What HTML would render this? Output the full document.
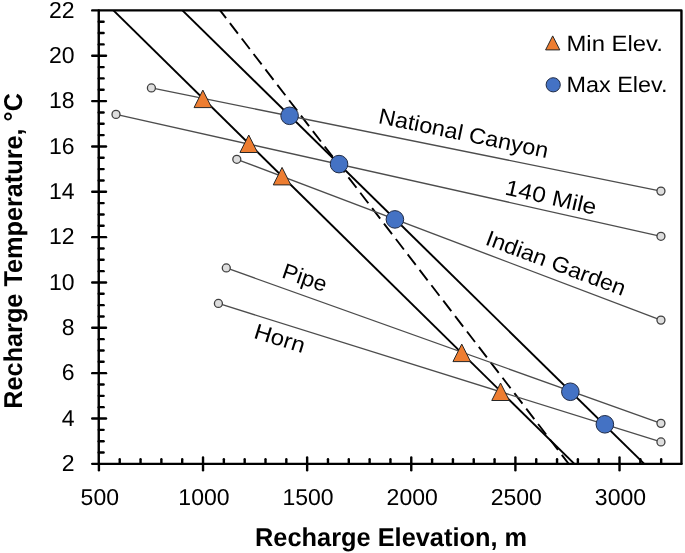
<!DOCTYPE html>
<html><head><meta charset="utf-8"><style>
html,body{margin:0;padding:0;background:#fff;overflow:hidden;width:685px;height:553px;}
svg{display:block;will-change:transform;text-rendering:geometricPrecision;}
</style></head><body>
<svg width="685" height="553" viewBox="0 0 685 553">
<rect x="0" y="0" width="685" height="553" fill="#fff"/>
<path d="M92.2,10.4 H681.45 V463.85" fill="none" stroke="#000" stroke-width="2.4" stroke-linecap="round" stroke-linejoin="round"/>
<line x1="98.75" y1="10.4" x2="98.75" y2="463.85" stroke="#000" stroke-width="2.4" stroke-linecap="round"/>
<line x1="92.2" y1="463.85" x2="681.45" y2="463.85" stroke="#000" stroke-width="2.4" stroke-linecap="round"/>
<line x1="98.75" y1="452.51" x2="103.6" y2="452.51" stroke="#000" stroke-width="2.4" stroke-linecap="round"/>
<line x1="98.75" y1="441.18" x2="103.6" y2="441.18" stroke="#000" stroke-width="2.4" stroke-linecap="round"/>
<line x1="98.75" y1="429.84" x2="103.6" y2="429.84" stroke="#000" stroke-width="2.4" stroke-linecap="round"/>
<line x1="92.2" y1="418.50" x2="106.0" y2="418.50" stroke="#000" stroke-width="2.4" stroke-linecap="round"/>
<line x1="98.75" y1="407.17" x2="103.6" y2="407.17" stroke="#000" stroke-width="2.4" stroke-linecap="round"/>
<line x1="98.75" y1="395.83" x2="103.6" y2="395.83" stroke="#000" stroke-width="2.4" stroke-linecap="round"/>
<line x1="98.75" y1="384.50" x2="103.6" y2="384.50" stroke="#000" stroke-width="2.4" stroke-linecap="round"/>
<line x1="92.2" y1="373.16" x2="106.0" y2="373.16" stroke="#000" stroke-width="2.4" stroke-linecap="round"/>
<line x1="98.75" y1="361.82" x2="103.6" y2="361.82" stroke="#000" stroke-width="2.4" stroke-linecap="round"/>
<line x1="98.75" y1="350.49" x2="103.6" y2="350.49" stroke="#000" stroke-width="2.4" stroke-linecap="round"/>
<line x1="98.75" y1="339.15" x2="103.6" y2="339.15" stroke="#000" stroke-width="2.4" stroke-linecap="round"/>
<line x1="92.2" y1="327.81" x2="106.0" y2="327.81" stroke="#000" stroke-width="2.4" stroke-linecap="round"/>
<line x1="98.75" y1="316.48" x2="103.6" y2="316.48" stroke="#000" stroke-width="2.4" stroke-linecap="round"/>
<line x1="98.75" y1="305.14" x2="103.6" y2="305.14" stroke="#000" stroke-width="2.4" stroke-linecap="round"/>
<line x1="98.75" y1="293.81" x2="103.6" y2="293.81" stroke="#000" stroke-width="2.4" stroke-linecap="round"/>
<line x1="92.2" y1="282.47" x2="106.0" y2="282.47" stroke="#000" stroke-width="2.4" stroke-linecap="round"/>
<line x1="98.75" y1="271.13" x2="103.6" y2="271.13" stroke="#000" stroke-width="2.4" stroke-linecap="round"/>
<line x1="98.75" y1="259.80" x2="103.6" y2="259.80" stroke="#000" stroke-width="2.4" stroke-linecap="round"/>
<line x1="98.75" y1="248.46" x2="103.6" y2="248.46" stroke="#000" stroke-width="2.4" stroke-linecap="round"/>
<line x1="92.2" y1="237.13" x2="106.0" y2="237.13" stroke="#000" stroke-width="2.4" stroke-linecap="round"/>
<line x1="98.75" y1="225.79" x2="103.6" y2="225.79" stroke="#000" stroke-width="2.4" stroke-linecap="round"/>
<line x1="98.75" y1="214.45" x2="103.6" y2="214.45" stroke="#000" stroke-width="2.4" stroke-linecap="round"/>
<line x1="98.75" y1="203.12" x2="103.6" y2="203.12" stroke="#000" stroke-width="2.4" stroke-linecap="round"/>
<line x1="92.2" y1="191.78" x2="106.0" y2="191.78" stroke="#000" stroke-width="2.4" stroke-linecap="round"/>
<line x1="98.75" y1="180.44" x2="103.6" y2="180.44" stroke="#000" stroke-width="2.4" stroke-linecap="round"/>
<line x1="98.75" y1="169.11" x2="103.6" y2="169.11" stroke="#000" stroke-width="2.4" stroke-linecap="round"/>
<line x1="98.75" y1="157.77" x2="103.6" y2="157.77" stroke="#000" stroke-width="2.4" stroke-linecap="round"/>
<line x1="92.2" y1="146.43" x2="106.0" y2="146.43" stroke="#000" stroke-width="2.4" stroke-linecap="round"/>
<line x1="98.75" y1="135.10" x2="103.6" y2="135.10" stroke="#000" stroke-width="2.4" stroke-linecap="round"/>
<line x1="98.75" y1="123.76" x2="103.6" y2="123.76" stroke="#000" stroke-width="2.4" stroke-linecap="round"/>
<line x1="98.75" y1="112.43" x2="103.6" y2="112.43" stroke="#000" stroke-width="2.4" stroke-linecap="round"/>
<line x1="92.2" y1="101.09" x2="106.0" y2="101.09" stroke="#000" stroke-width="2.4" stroke-linecap="round"/>
<line x1="98.75" y1="89.75" x2="103.6" y2="89.75" stroke="#000" stroke-width="2.4" stroke-linecap="round"/>
<line x1="98.75" y1="78.42" x2="103.6" y2="78.42" stroke="#000" stroke-width="2.4" stroke-linecap="round"/>
<line x1="98.75" y1="67.08" x2="103.6" y2="67.08" stroke="#000" stroke-width="2.4" stroke-linecap="round"/>
<line x1="92.2" y1="55.75" x2="106.0" y2="55.75" stroke="#000" stroke-width="2.4" stroke-linecap="round"/>
<line x1="98.75" y1="44.41" x2="103.6" y2="44.41" stroke="#000" stroke-width="2.4" stroke-linecap="round"/>
<line x1="98.75" y1="33.07" x2="103.6" y2="33.07" stroke="#000" stroke-width="2.4" stroke-linecap="round"/>
<line x1="98.75" y1="21.74" x2="103.6" y2="21.74" stroke="#000" stroke-width="2.4" stroke-linecap="round"/>
<line x1="98.90" y1="463.85" x2="98.90" y2="470.2" stroke="#000" stroke-width="2.4" stroke-linecap="round"/>
<line x1="119.73" y1="463.85" x2="119.73" y2="459.2" stroke="#000" stroke-width="2.4" stroke-linecap="round"/>
<line x1="140.55" y1="463.85" x2="140.55" y2="459.2" stroke="#000" stroke-width="2.4" stroke-linecap="round"/>
<line x1="161.38" y1="463.85" x2="161.38" y2="459.2" stroke="#000" stroke-width="2.4" stroke-linecap="round"/>
<line x1="182.20" y1="463.85" x2="182.20" y2="459.2" stroke="#000" stroke-width="2.4" stroke-linecap="round"/>
<line x1="203.03" y1="457.5" x2="203.03" y2="470.2" stroke="#000" stroke-width="2.4" stroke-linecap="round"/>
<line x1="223.85" y1="463.85" x2="223.85" y2="459.2" stroke="#000" stroke-width="2.4" stroke-linecap="round"/>
<line x1="244.68" y1="463.85" x2="244.68" y2="459.2" stroke="#000" stroke-width="2.4" stroke-linecap="round"/>
<line x1="265.50" y1="463.85" x2="265.50" y2="459.2" stroke="#000" stroke-width="2.4" stroke-linecap="round"/>
<line x1="286.32" y1="463.85" x2="286.32" y2="459.2" stroke="#000" stroke-width="2.4" stroke-linecap="round"/>
<line x1="307.15" y1="457.5" x2="307.15" y2="470.2" stroke="#000" stroke-width="2.4" stroke-linecap="round"/>
<line x1="327.98" y1="463.85" x2="327.98" y2="459.2" stroke="#000" stroke-width="2.4" stroke-linecap="round"/>
<line x1="348.80" y1="463.85" x2="348.80" y2="459.2" stroke="#000" stroke-width="2.4" stroke-linecap="round"/>
<line x1="369.62" y1="463.85" x2="369.62" y2="459.2" stroke="#000" stroke-width="2.4" stroke-linecap="round"/>
<line x1="390.45" y1="463.85" x2="390.45" y2="459.2" stroke="#000" stroke-width="2.4" stroke-linecap="round"/>
<line x1="411.27" y1="457.5" x2="411.27" y2="470.2" stroke="#000" stroke-width="2.4" stroke-linecap="round"/>
<line x1="432.10" y1="463.85" x2="432.10" y2="459.2" stroke="#000" stroke-width="2.4" stroke-linecap="round"/>
<line x1="452.92" y1="463.85" x2="452.92" y2="459.2" stroke="#000" stroke-width="2.4" stroke-linecap="round"/>
<line x1="473.75" y1="463.85" x2="473.75" y2="459.2" stroke="#000" stroke-width="2.4" stroke-linecap="round"/>
<line x1="494.57" y1="463.85" x2="494.57" y2="459.2" stroke="#000" stroke-width="2.4" stroke-linecap="round"/>
<line x1="515.40" y1="457.5" x2="515.40" y2="470.2" stroke="#000" stroke-width="2.4" stroke-linecap="round"/>
<line x1="536.23" y1="463.85" x2="536.23" y2="459.2" stroke="#000" stroke-width="2.4" stroke-linecap="round"/>
<line x1="557.05" y1="463.85" x2="557.05" y2="459.2" stroke="#000" stroke-width="2.4" stroke-linecap="round"/>
<line x1="577.88" y1="463.85" x2="577.88" y2="459.2" stroke="#000" stroke-width="2.4" stroke-linecap="round"/>
<line x1="598.70" y1="463.85" x2="598.70" y2="459.2" stroke="#000" stroke-width="2.4" stroke-linecap="round"/>
<line x1="619.52" y1="457.5" x2="619.52" y2="470.2" stroke="#000" stroke-width="2.4" stroke-linecap="round"/>
<line x1="640.35" y1="463.85" x2="640.35" y2="459.2" stroke="#000" stroke-width="2.4" stroke-linecap="round"/>
<line x1="661.17" y1="463.85" x2="661.17" y2="459.2" stroke="#000" stroke-width="2.4" stroke-linecap="round"/>
<text transform="translate(74.6,470.95)" font-family="Liberation Sans, sans-serif" font-size="23" text-anchor="end" fill="#000">2</text>
<text transform="translate(74.6,425.61)" font-family="Liberation Sans, sans-serif" font-size="23" text-anchor="end" fill="#000">4</text>
<text transform="translate(74.6,380.26)" font-family="Liberation Sans, sans-serif" font-size="23" text-anchor="end" fill="#000">6</text>
<text transform="translate(74.6,334.92)" font-family="Liberation Sans, sans-serif" font-size="23" text-anchor="end" fill="#000">8</text>
<text transform="translate(74.6,289.57)" font-family="Liberation Sans, sans-serif" font-size="23" text-anchor="end" fill="#000">10</text>
<text transform="translate(74.6,244.23)" font-family="Liberation Sans, sans-serif" font-size="23" text-anchor="end" fill="#000">12</text>
<text transform="translate(74.6,198.88)" font-family="Liberation Sans, sans-serif" font-size="23" text-anchor="end" fill="#000">14</text>
<text transform="translate(74.6,153.53)" font-family="Liberation Sans, sans-serif" font-size="23" text-anchor="end" fill="#000">16</text>
<text transform="translate(74.6,108.19)" font-family="Liberation Sans, sans-serif" font-size="23" text-anchor="end" fill="#000">18</text>
<text transform="translate(74.6,62.85)" font-family="Liberation Sans, sans-serif" font-size="23" text-anchor="end" fill="#000">20</text>
<text transform="translate(74.6,17.50)" font-family="Liberation Sans, sans-serif" font-size="23" text-anchor="end" fill="#000">22</text>
<text transform="translate(99.80,505.0)" font-family="Liberation Sans, sans-serif" font-size="23" text-anchor="middle" fill="#000">500</text>
<text transform="translate(203.93,505.0)" font-family="Liberation Sans, sans-serif" font-size="23" text-anchor="middle" fill="#000">1000</text>
<text transform="translate(308.05,505.0)" font-family="Liberation Sans, sans-serif" font-size="23" text-anchor="middle" fill="#000">1500</text>
<text transform="translate(412.17,505.0)" font-family="Liberation Sans, sans-serif" font-size="23" text-anchor="middle" fill="#000">2000</text>
<text transform="translate(516.30,505.0)" font-family="Liberation Sans, sans-serif" font-size="23" text-anchor="middle" fill="#000">2500</text>
<text transform="translate(620.42,505.0)" font-family="Liberation Sans, sans-serif" font-size="23" text-anchor="middle" fill="#000">3000</text>
<text x="255.0" y="545.7" font-family="Liberation Sans, sans-serif" font-size="25.8" font-weight="bold" fill="#000" textLength="272.1" lengthAdjust="spacingAndGlyphs">Recharge Elevation, m</text>
<text transform="translate(22.0,408.7) rotate(-90)" x="0" y="0" font-family="Liberation Sans, sans-serif" font-size="25.8" font-weight="bold" fill="#000" textLength="315.6" lengthAdjust="spacingAndGlyphs">Recharge Temperature, °C</text>
<defs><clipPath id="pc"><rect x="98.75" y="10.40" width="582.70" height="453.45"/></clipPath></defs>
<g clip-path="url(#pc)">
<line x1="113.4" y1="10.4" x2="574.4" y2="463.85" stroke="#000" stroke-width="1.95"/>
<line x1="182.4" y1="10.4" x2="644.3" y2="463.85" stroke="#000" stroke-width="1.95"/>
<line x1="220.1" y1="10.4" x2="568.7" y2="463.85" stroke="#000" stroke-width="1.9" stroke-dasharray="13.2 6.25" stroke-dashoffset="3.4"/>
</g>
<line x1="151.4" y1="87.95" x2="660.95" y2="191.1" stroke="#4d4d4d" stroke-width="1.35"/>
<line x1="116.0" y1="114.4" x2="660.95" y2="236.3" stroke="#4d4d4d" stroke-width="1.35"/>
<line x1="236.8" y1="159.3" x2="660.95" y2="320.1" stroke="#4d4d4d" stroke-width="1.35"/>
<line x1="226.3" y1="267.95" x2="660.95" y2="423.35" stroke="#4d4d4d" stroke-width="1.35"/>
<line x1="218.4" y1="303.45" x2="660.95" y2="441.95" stroke="#4d4d4d" stroke-width="1.35"/>
<circle cx="151.4" cy="87.95" r="4.0" fill="#dedede" stroke="#404040" stroke-width="1.3"/>
<circle cx="660.95" cy="191.1" r="4.0" fill="#dedede" stroke="#404040" stroke-width="1.3"/>
<circle cx="116.0" cy="114.4" r="4.0" fill="#dedede" stroke="#404040" stroke-width="1.3"/>
<circle cx="660.95" cy="236.3" r="4.0" fill="#dedede" stroke="#404040" stroke-width="1.3"/>
<circle cx="236.8" cy="159.3" r="4.0" fill="#dedede" stroke="#404040" stroke-width="1.3"/>
<circle cx="660.95" cy="320.1" r="4.0" fill="#dedede" stroke="#404040" stroke-width="1.3"/>
<circle cx="226.3" cy="267.95" r="4.0" fill="#dedede" stroke="#404040" stroke-width="1.3"/>
<circle cx="660.95" cy="423.35" r="4.0" fill="#dedede" stroke="#404040" stroke-width="1.3"/>
<circle cx="218.4" cy="303.45" r="4.0" fill="#dedede" stroke="#404040" stroke-width="1.3"/>
<circle cx="660.95" cy="441.95" r="4.0" fill="#dedede" stroke="#404040" stroke-width="1.3"/>
<polygon points="202.85,90.10 211.65,107.60 194.05,107.60" fill="#ED7D31" stroke="#262626" stroke-width="1.0" stroke-linejoin="miter"/>
<polygon points="248.75,135.00 257.55,152.50 239.95,152.50" fill="#ED7D31" stroke="#262626" stroke-width="1.0" stroke-linejoin="miter"/>
<polygon points="282.05,167.40 290.85,184.90 273.25,184.90" fill="#ED7D31" stroke="#262626" stroke-width="1.0" stroke-linejoin="miter"/>
<polygon points="461.75,344.10 470.55,361.60 452.95,361.60" fill="#ED7D31" stroke="#262626" stroke-width="1.0" stroke-linejoin="miter"/>
<polygon points="500.55,383.00 509.35,400.50 491.75,400.50" fill="#ED7D31" stroke="#262626" stroke-width="1.0" stroke-linejoin="miter"/>
<circle cx="289.6" cy="115.8" r="8.8" fill="#4472C4" stroke="#1f2a44" stroke-width="1.0"/>
<circle cx="339.05" cy="164.1" r="8.8" fill="#4472C4" stroke="#1f2a44" stroke-width="1.0"/>
<circle cx="394.9" cy="219.4" r="8.8" fill="#4472C4" stroke="#1f2a44" stroke-width="1.0"/>
<circle cx="570.35" cy="391.75" r="8.8" fill="#4472C4" stroke="#1f2a44" stroke-width="1.0"/>
<circle cx="604.85" cy="424.3" r="8.8" fill="#4472C4" stroke="#1f2a44" stroke-width="1.0"/>
<polygon points="552.70,35.90 559.80,49.90 545.60,49.90" fill="#ED7D31" stroke="#262626" stroke-width="1.0" stroke-linejoin="miter"/>
<circle cx="553.2" cy="84.8" r="7.1" fill="#4472C4" stroke="#1f2a44" stroke-width="1.0"/>
<text x="566.5" y="50.9" font-family="Liberation Sans, sans-serif" font-size="22" fill="#000" textLength="96.3" lengthAdjust="spacingAndGlyphs">Min Elev.</text>
<text x="566.5" y="92.3" font-family="Liberation Sans, sans-serif" font-size="22" fill="#000" textLength="100.9" lengthAdjust="spacingAndGlyphs">Max Elev.</text>
<text transform="translate(377.46,123.0) rotate(11.7)" x="0" y="0" font-family="Liberation Sans, sans-serif" font-size="22" fill="#000" textLength="172.77" lengthAdjust="spacingAndGlyphs">National Canyon</text>
<text transform="translate(503.96,194.22) rotate(12.8)" x="0" y="0" font-family="Liberation Sans, sans-serif" font-size="22" fill="#000" textLength="93.08" lengthAdjust="spacingAndGlyphs">140 Mile</text>
<text transform="translate(484.36,244.34) rotate(20.5)" x="0" y="0" font-family="Liberation Sans, sans-serif" font-size="22" fill="#000" textLength="147.47" lengthAdjust="spacingAndGlyphs">Indian Garden</text>
<text transform="translate(280.83,277.19) rotate(19.0)" x="0" y="0" font-family="Liberation Sans, sans-serif" font-size="22" fill="#000" textLength="45.54" lengthAdjust="spacingAndGlyphs">Pipe</text>
<text transform="translate(252.67,337.7) rotate(17.2)" x="0" y="0" font-family="Liberation Sans, sans-serif" font-size="22" fill="#000" textLength="52.09" lengthAdjust="spacingAndGlyphs">Horn</text>
</svg>
</body></html>
